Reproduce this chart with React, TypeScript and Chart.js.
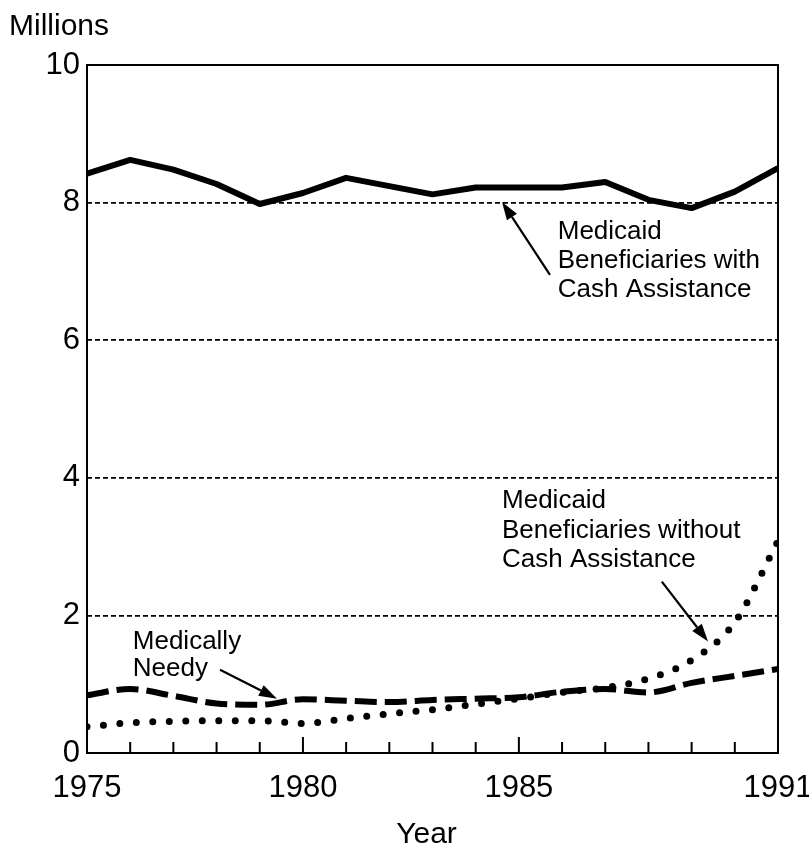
import React, { useEffect, useRef } from "react";
import { Chart, registerables } from "chart.js";

Chart.register(...registerables);

const years = [1975, 1976, 1977, 1978, 1979, 1980, 1981, 1982, 1983, 1984, 1985, 1986, 1987, 1988, 1989, 1990, 1991];
const withCash = [8.42, 8.62, 8.48, 8.27, 7.98, 8.14, 8.36, 8.24, 8.12, 8.22, 8.22, 8.22, 8.3, 8.04, 7.92, 8.16, 8.5];
const medicallyNeedy = [0.84, 0.93, 0.83, 0.72, 0.7, 0.78, 0.76, 0.74, 0.77, 0.79, 0.81, 0.89, 0.93, 0.88, 1.02, 1.12, 1.22];
const withoutCash = [0.38, 0.44, 0.46, 0.47, 0.47, 0.43, 0.5, 0.57, 0.63, 0.71, 0.79, 0.88, 0.95, 1.08, 1.35, 1.9, 3.08];
const xTickLabels = [1975, 1980, 1985, 1991];
const majorYears = [1980, 1985];
const yAxisTitle = "Millions";
const xAxisTitle = "Year";

const labelWithCash = ["Medicaid", "Beneficiaries with", "Cash Assistance"];
const labelWithoutCash = ["Medicaid", "Beneficiaries without", "Cash Assistance"];
const labelNeedy = ["Medically", "Needy"];

const FONT = '"Liberation Sans", Arial, sans-serif';

function toPts(vals: number[]) {
  return years.map((yr, i) => ({ x: yr, y: vals[i] }));
}

function arrow(ctx: CanvasRenderingContext2D, x1: number, y1: number, x2: number, y2: number) {
  const ang = Math.atan2(y2 - y1, x2 - x1);
  const head = 18;
  const half = 6;
  const bx = x2 - head * Math.cos(ang);
  const by = y2 - head * Math.sin(ang);
  ctx.beginPath();
  ctx.lineWidth = 2.2;
  ctx.moveTo(x1, y1);
  ctx.lineTo(bx, by);
  ctx.stroke();
  ctx.beginPath();
  ctx.moveTo(x2, y2);
  ctx.lineTo(bx + half * Math.sin(ang), by - half * Math.cos(ang));
  ctx.lineTo(bx - half * Math.sin(ang), by + half * Math.cos(ang));
  ctx.closePath();
  ctx.fill();
}

function textBlock(ctx: CanvasRenderingContext2D, lines: string[], x: number, y: number, lh: number) {
  lines.forEach((t, i) => ctx.fillText(t, x, y + i * lh));
}

const decorPlugin = {
  id: "decor",
  afterDraw(chart: any) {
    const { ctx, chartArea, scales } = chart;
    const { left, right, top, bottom } = chartArea;
    const xs = scales.x;
    const ys = scales.y;
    const px = (v: number) => xs.getPixelForValue(v);
    const py = (v: number) => ys.getPixelForValue(v);
    ctx.save();
    ctx.setLineDash([]);
    ctx.strokeStyle = "#000";
    ctx.fillStyle = "#000";
    ctx.lineWidth = 2;
    ctx.strokeRect(left, top, right - left, bottom - top);

    // inward tick marks
    years.forEach((yr) => {
      if (yr === years[0] || yr === years[years.length - 1]) return;
      const x = px(yr);
      const len = majorYears.includes(yr) ? 16 : 11;
      ctx.beginPath();
      ctx.moveTo(x, bottom);
      ctx.lineTo(x, bottom - len);
      ctx.stroke();
    });

    // titles
    ctx.font = `30px ${FONT}`;
    ctx.textAlign = "left";
    ctx.textBaseline = "middle";
    ctx.fillText(yAxisTitle, 9, 27);
    ctx.textAlign = "center";
    ctx.fillText(xAxisTitle, (left + right) / 2 - 6, 835);

    // annotations
    ctx.font = `26px ${FONT}`;
    ctx.textAlign = "left";
    ctx.textBaseline = "middle";
    textBlock(ctx, labelWithCash, px(1985.9), py(7.57), 29);
    arrow(ctx, px(1985.72), py(6.95), px(1984.61), py(8.01));

    textBlock(ctx, labelWithoutCash, px(1984.61), py(3.66), 29.5);
    arrow(ctx, px(1988.31), py(2.49), px(1989.38), py(1.62));

    textBlock(ctx, labelNeedy, px(1976.06), py(1.61), 27);
    arrow(ctx, px(1978.08), py(1.21), px(1979.4), py(0.79));
    ctx.restore();
  },
};

export default function App() {
  const ref = useRef<HTMLCanvasElement | null>(null);
  useEffect(() => {
    if (!ref.current) return;
    const chart = new Chart(ref.current, {
      type: "line",
      data: {
        datasets: [
          {
            label: "Medicaid Beneficiaries with Cash Assistance",
            data: toPts(withCash),
            borderColor: "#000",
            borderWidth: 6,
            pointRadius: 0,
            tension: 0,
            borderJoinStyle: "round",
          },
          {
            label: "Medically Needy",
            data: toPts(medicallyNeedy),
            borderColor: "#000",
            borderWidth: 6,
            borderDash: [22, 8],
            pointRadius: 0,
            cubicInterpolationMode: "monotone",
          },
          {
            label: "Medicaid Beneficiaries without Cash Assistance",
            data: toPts(withoutCash),
            borderColor: "#000",
            borderWidth: 7,
            borderDash: [0, 16.5],
            borderCapStyle: "round",
            pointRadius: 0,
            cubicInterpolationMode: "monotone",
          },
        ],
      },
      options: {
        responsive: false,
        animation: false,
        layout: { padding: { top: 65, right: 31, left: 0, bottom: 0 } },
        plugins: { legend: { display: false }, tooltip: { enabled: false } },
        scales: {
          x: {
            type: "linear",
            min: years[0],
            max: years[years.length - 1],
            afterBuildTicks: (s: any) => {
              s.ticks = xTickLabels.map((v) => ({ value: v }));
            },
            afterFit: (s: any) => {
              s.height = 95;
              s.paddingLeft = 0;
              s.paddingRight = 0;
            },
            grid: { display: false, drawTicks: false },
            border: { display: false },
            ticks: {
              color: "#000",
              font: { family: FONT, size: 31 },
              padding: 17,
              maxRotation: 0,
              autoSkip: false,
              callback: (v: any) => String(v),
            },
          },
          y: {
            min: 0,
            max: 10,
            afterFit: (s: any) => {
              s.width = 87;
            },
            ticks: {
              stepSize: 2,
              color: "#000",
              font: { family: FONT, size: 31 },
              padding: 7,
              callback: (v: any) => String(v),
            },
            grid: {
              drawTicks: false,
              lineWidth: 1.8,
              color: (c: any) => (c.tick && (c.tick.value === 0 || c.tick.value === 10) ? "rgba(0,0,0,0)" : "#000"),
            },
            border: { display: false, dash: [5, 3] },
          },
        },
      },
      plugins: [decorPlugin],
    });
    return () => chart.destroy();
  }, []);
  return (
    <div style={{ position: "absolute", left: 0, top: 0, width: 809, height: 848, background: "#fff" }}>
      <canvas ref={ref} width={809} height={848} />
    </div>
  );
}
